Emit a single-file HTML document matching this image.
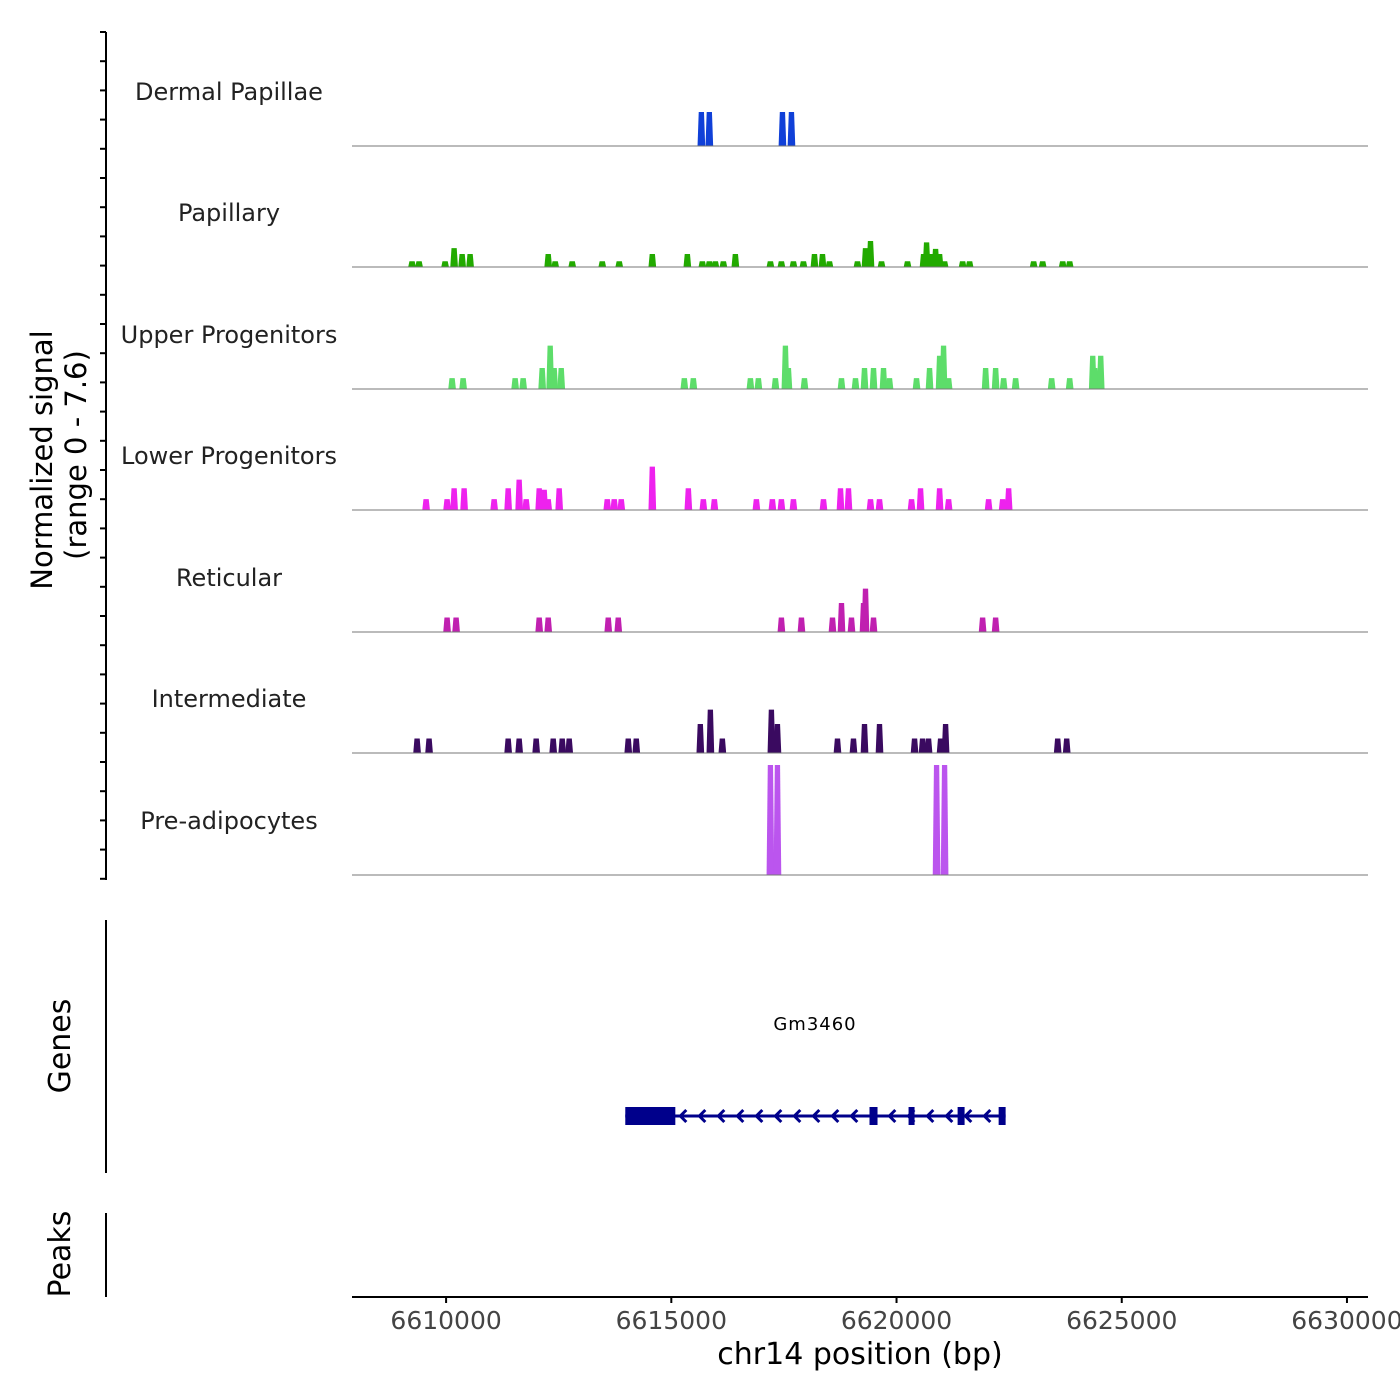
<!DOCTYPE html>
<html><head><meta charset="utf-8"><style>
html,body{margin:0;padding:0;background:#fff;}
svg{display:block;font-family:"DejaVu Sans","Liberation Sans",sans-serif;}
</style></head><body>
<svg id="chart" width="1400" height="1400" viewBox="0 0 1400 1400"></svg>
<script>
// ---- data ----
const trackNames = ["Dermal Papillae","Papillary","Upper Progenitors","Lower Progenitors","Reticular","Intermediate","Pre-adipocytes"];
const trackColors = ["#1040d8","#22aa00","#5ddd6a","#ee22ee","#c020b0","#3a0a60","#bb55ee"];
const dermalPos = [6615667,6615844,6617467,6617667];
const dermalVal = [2.35,2.35,2.35,2.35];
const papillaryPos = [6609244,6609400,6609978,6610178,6610356,6610533,6612267,6612422,6612800,6613467,6613844,6614578,6615356,6615689,6615844,6615978,6616156,6616422,6617200,6617444,6617711,6617933,6618178,6618356,6618511,6619133,6619311,6619422,6619667,6620244,6620600,6620667,6620778,6620867,6620956,6621067,6621467,6621622,6623044,6623244,6623689,6623844];
const papillaryVal = [0.4,0.4,0.4,1.3,0.9,0.9,0.9,0.4,0.4,0.4,0.4,0.9,0.9,0.4,0.4,0.4,0.4,0.9,0.4,0.4,0.4,0.4,0.9,0.9,0.4,0.4,1.3,1.8,0.4,0.4,0.9,1.7,0.9,1.25,0.9,0.4,0.4,0.4,0.4,0.4,0.4,0.4];
const upperPos = [6610133,6610378,6611533,6611711,6612133,6612311,6612400,6612556,6615289,6615489,6616756,6616933,6617311,6617533,6617600,6617956,6618778,6619089,6619289,6619489,6619711,6619844,6620444,6620733,6620956,6621044,6621156,6621978,6622200,6622378,6622644,6623444,6623844,6624356,6624400,6624533];
const upperVal = [0.75,0.75,0.75,0.75,1.45,3.0,1.45,1.45,0.75,0.75,0.75,0.75,0.75,3.0,1.45,0.75,0.75,0.75,1.45,1.45,1.45,0.75,0.75,1.45,2.3,3.0,0.75,1.45,1.45,0.75,0.75,0.75,0.75,2.3,1.45,2.3];
const lowerPos = [6609556,6610022,6610178,6610400,6611067,6611378,6611622,6611778,6612067,6612178,6612267,6612511,6613578,6613733,6613889,6614578,6615378,6615711,6615956,6616889,6617244,6617444,6617711,6618378,6618756,6618933,6619422,6619622,6620333,6620533,6620956,6621156,6622044,6622356,6622489];
const lowerVal = [0.75,0.75,1.5,1.5,0.75,1.5,2.1,0.75,1.5,1.4,0.75,1.5,0.75,0.75,0.75,3.0,1.5,0.75,0.75,0.75,0.75,0.75,0.75,0.75,1.5,1.5,0.75,0.75,0.75,1.5,1.5,0.75,0.75,0.75,1.5];
const reticularPos = [6610022,6610222,6612067,6612267,6613600,6613822,6617444,6617889,6618578,6618778,6619000,6619267,6619311,6619489,6621911,6622200];
const reticularVal = [1.0,1.0,1.0,1.0,1.0,1.0,1.0,1.0,1.0,2.0,1.0,2.0,3.0,1.0,1.0,1.0];
const interPos = [6609356,6609622,6611378,6611622,6612000,6612378,6612578,6612733,6614044,6614222,6615644,6615867,6616133,6617222,6617356,6618689,6619044,6619289,6619622,6620400,6620578,6620711,6620978,6621089,6623578,6623778];
const interVal = [1.0,1.0,1.0,1.0,1.0,1.0,1.0,1.0,1.0,1.0,2.0,3.0,1.0,3.0,2.0,1.0,1.0,2.0,2.0,1.0,1.0,1.0,1.0,2.0,1.0,1.0];
const preadPos = [6617200,6617356,6620889,6621067];
const preadVal = [7.6,7.6,7.6,7.6];
const xTicks = [6610000,6615000,6620000,6625000,6630000];
const geneName = "Gm3460";
const geneStart = 6613978, geneEnd = 6622422;
const exonStarts = [6613978,6619400,6620267,6621356,6622267];
const exonEnds   = [6615089,6619578,6620378,6621511,6622422];

const NS="http://www.w3.org/2000/svg";
const svg=document.getElementById('chart');
function mk(tag,attrs,parent){const e=document.createElementNS(NS,tag);for(const k in attrs)e.setAttribute(k,attrs[k]);(parent||svg).appendChild(e);return e;}
// axis functions
const xMin=6607911, xMax=6630467, px0=352, px1=1368;
function X(bp){return px0+(bp-xMin)/(xMax-xMin)*(px1-px0);}
const yMaxVal=7.6, trackH=110;
function H(v){return v/yMaxVal*trackH;}
const baselines=[146,267,389,510,632,753,875];
const series=[[dermalPos,dermalVal],[papillaryPos,papillaryVal],[upperPos,upperVal],[lowerPos,lowerVal],[reticularPos,reticularVal],[interPos,interVal],[preadPos,preadVal]];
const peakW=170;

series.forEach((s,i)=>{
  const g=mk('g',{});
  
  
  const b=baselines[i];
  const lab=mk('text',{x:229,y:b-46,'text-anchor':'middle','font-size':'24',fill:'#222'},g);
  lab.textContent=trackNames[i];
  
  
  s[0].forEach((p,j)=>{
    const xl=X(p-peakW/2), xr=X(p+peakW/2), h=H(s[1][j]);
    const poly=mk('polygon',{points:`${xl},${b} ${xl+1.2},${b-h} ${xr-1.2},${b-h} ${xr},${b}`,fill:trackColors[i]},g);
    
    
  });
  const bl=mk('line',{x1:px0,x2:px1,y1:b,y2:b,stroke:'#777','stroke-width':1},g);
  
  
});

// left axes
const la=mk('line',{x1:106,x2:106,y1:32,y2:880,stroke:'#000','stroke-width':2});


for(let k=0;k<=29;k++){
  const y=32+k*29.2;
  const t=mk('line',{x1:100,x2:106,y1:y,y2:y,stroke:'#000','stroke-width':2});
  
  
}
const ga=mk('line',{x1:106,x2:106,y1:920,y2:1173,stroke:'#000','stroke-width':2});


const pa=mk('line',{x1:106,x2:106,y1:1213,y2:1297,stroke:'#000','stroke-width':2});



function rotText(x,y,txt,name,fs){const t=mk('text',{x:x,y:y,'text-anchor':'middle','font-size':fs,fill:'#000',transform:`rotate(-90 ${x} ${y})`});t.textContent=txt;}
rotText(52,460,'Normalized signal','y-axis-title','29');
rotText(86,455,'(range 0 - 7.6)','y-axis-subtitle','29');
rotText(70,1046,'Genes','genes-title','30');
rotText(70,1254,'Peaks','peaks-title','30');

// gene
const gg=mk('g',{});


const gy=1116;
mk('line',{x1:X(geneStart),x2:X(geneEnd),y1:gy,y2:gy,stroke:'#00008b','stroke-width':3},gg);
for(let x=X(exonEnds[0])+6;x<X(geneEnd)-6;x+=19){
  mk('polyline',{points:`${x+5},${gy-6} ${x-1},${gy} ${x+5},${gy+6}`,fill:'none',stroke:'#00008b','stroke-width':3},gg);
}
exonStarts.forEach((s,j)=>{
  const r=mk('rect',{x:X(s),y:gy-9,width:Math.max(X(exonEnds[j])-X(s),6),height:18,fill:'#00008b'},gg);
  
  
});
const gl=mk('text',{x:815,y:1030,'text-anchor':'middle','font-size':'18','letter-spacing':'1',fill:'#000'},gg);
gl.textContent=geneName;



// x axis
const xa=mk('line',{x1:px0,x2:px1,y1:1297,y2:1297,stroke:'#000','stroke-width':2});


xTicks.forEach(v=>{
  const x=X(v);
  const t=mk('line',{x1:x,x2:x,y1:1297,y2:1303,stroke:'#000','stroke-width':2});
  
  
  const l=mk('text',{x:x,y:1329,'text-anchor':'middle','font-size':'25',fill:'#444'});
  l.textContent=v;
  
  
});
const xt=mk('text',{x:860,y:1364,'text-anchor':'middle','font-size':'30',fill:'#000'});
xt.textContent='chr14 position (bp)';


</script>
</body></html>
